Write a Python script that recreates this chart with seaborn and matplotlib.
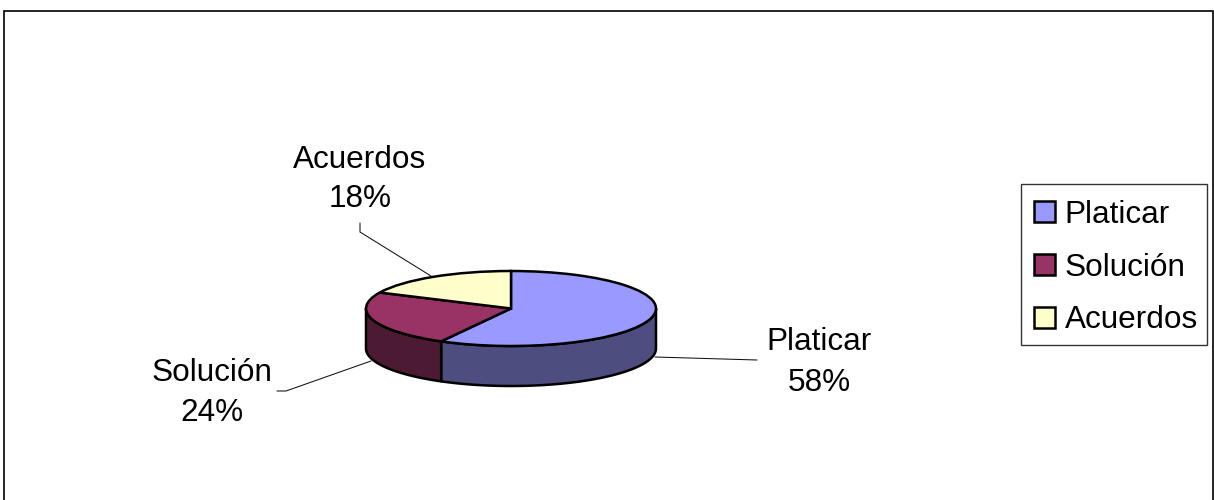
import matplotlib
matplotlib.use("Agg")
import matplotlib.pyplot as plt
from matplotlib.patches import Rectangle
import numpy as np
import seaborn as sns

categories = ["Platicar", "Solución", "Acuerdos"]
shares = [58, 24, 18]
top_colors = ["#9999FF", "#993366", "#FFFFCC"]

# Label anchors as (centre x, baseline of name, baseline of value), in canvas pixels
label_anchors = [(819, 350, 391), (212, 381, 421), (360, 168, 207)]
leader_lines = [
    [(655, 357), (757, 360)],
    [(277, 391), (286, 391), (371, 361)],
    [(360, 223), (360, 232), (431, 276)],
]

sns.set_theme(style="white")
plt.rcParams["font.family"] = ["Liberation Sans", "DejaVu Sans"]

W, H = 1214, 500
FONT = 22.7
fig = plt.figure(figsize=(W / 100, H / 100), dpi=100, facecolor="white")

# Canvas axes in pixel units, y pointing down, for the frame, leaders and labels
canvas = fig.add_axes([0, 0, 1, 1])
canvas.set_xlim(0, W)
canvas.set_ylim(H, 0)
canvas.axis("off")
canvas.plot([3.5, 3.5, 1213, 1213], [H, 10.5, 10.5, H], color="black", lw=1.2,
            solid_joinstyle="miter", clip_on=False)

for pts in leader_lines:
    xs, ys = zip(*pts)
    canvas.plot(xs, ys, color="#111111", lw=0.75)

for name, share, (cx, y_name, y_value) in zip(categories, shares, label_anchors):
    canvas.text(cx, y_name, name, ha="center", va="baseline", fontsize=FONT, color="black")
    canvas.text(cx, y_value, f"{share}%", ha="center", va="baseline", fontsize=FONT, color="black")

# Pie axes: the unit circle is squashed into an ellipse by the axes' own scales
left, right, top, bottom = 366, 656, 271, 386
ry_px = 37.5
depth = 40 / ry_px
pie_ax = fig.add_axes([left / W, 1 - bottom / H, (right - left) / W, (bottom - top) / H])
palette = sns.color_palette(top_colors)
wedges, _ = pie_ax.pie(shares, colors=palette, startangle=90, counterclock=False,
                       wedgeprops=dict(edgecolor="black", linewidth=1.8, zorder=3))
pie_ax.set_aspect("auto")
pie_ax.set_xlim(-1, 1)
pie_ax.set_ylim(-1 - depth, 1)
pie_ax.axis("off")

# Side wall: the visible front half of each slice, in half the slice's brightness
edges = 90 - np.cumsum([0] + shares) * 3.6
for start, end, colour in zip(edges[:-1], edges[1:], palette):
    hi, lo = min(start, 0), max(end, -180)
    if hi <= lo:
        continue
    theta = np.radians(np.linspace(hi, lo, 80))
    x, y = np.cos(theta), np.sin(theta)
    pie_ax.fill(np.r_[x, x[::-1]], np.r_[y, y[::-1] - depth],
                facecolor=tuple(c * 0.5 for c in colour), edgecolor="black",
                linewidth=1.8, zorder=2, clip_on=False, joinstyle="round")
for w in wedges:
    w.set_clip_on(False)

# Legend box is drawn apart so the rows can sit a little low inside it
canvas.add_patch(Rectangle((1021, 184), 186, 161, facecolor="white",
                           edgecolor="#333333", linewidth=1.0, zorder=4))
legend = canvas.legend(wedges, categories, loc="upper left", bbox_to_anchor=(1021, 187),
                       bbox_transform=canvas.transData, fontsize=FONT, frameon=False,
                       labelcolor="black", handlelength=0.66, handleheight=0.66,
                       handletextpad=0.31, labelspacing=0.72, borderpad=0.41,
                       borderaxespad=0)
legend.set_zorder(5)

fig.savefig("out.png", dpi=100)
